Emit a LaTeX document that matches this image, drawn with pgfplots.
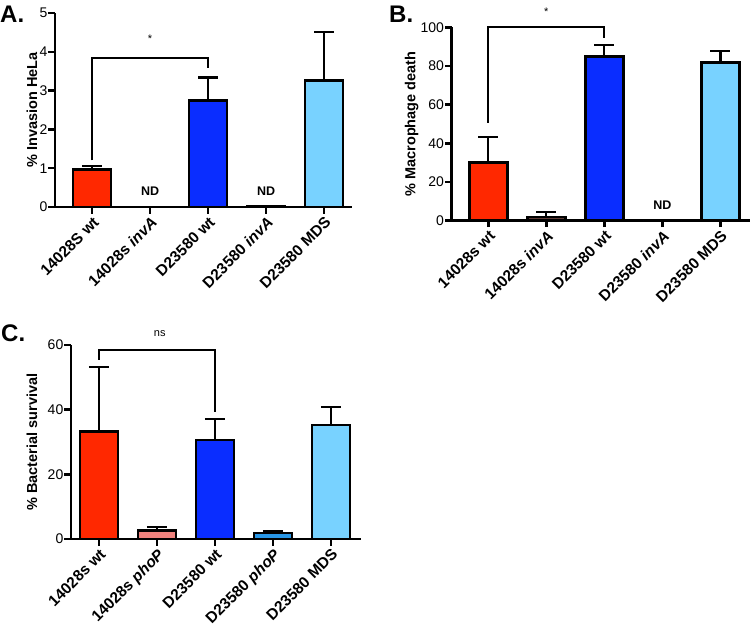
\documentclass[border=0pt]{standalone}
\usepackage{pgfplots}
\pgfplotsset{compat=1.18}
\usepackage{fontspec}
\setmainfont{Liberation Sans}
\definecolor{cred}{RGB}{255,40,0}
\definecolor{cblue}{RGB}{10,45,255}
\definecolor{clight}{RGB}{120,210,255}
\definecolor{cbrown}{RGB}{95,60,55}
\definecolor{csalmon}{RGB}{240,130,125}
\definecolor{cmid}{RGB}{40,150,230}
\pgfplotsset{
  panel/.style={
    scale only axis, anchor=south west, clip=false,
    axis x line=bottom, axis y line=left,
    axis line style={-, line width=2.8pt, black},
    ymin=0, xtick={0,1,2,3,4},
    tick align=outside, major tick length=6.5pt,
    tick style={black, line width=2.5pt},
    every tick label/.append style={font=\fontsize{14}{14}\selectfont},
    /pgf/number format/assume math mode=true,
    yticklabel style={inner sep=1pt},
    xticklabel style={rotate=45, anchor=north east, font=\fontsize{15.5}{15.5}\selectfont\bfseries, inner sep=1.5pt},
    ybar,
  },
  ylab/.style={every axis y label/.style={at={(axis description cs:0,0.5)}, xshift=#1, rotate=90, anchor=center, font=\fontsize{14.5}{14.5}\selectfont\bfseries}},
  mybar/.style={fill=#1, draw=black, line width=2.5pt, bar width=38pt, bar shift=0pt,
    error bars/y dir=plus, error bars/y explicit,
    error bars/error bar style={line width=2.2pt, black},
    error bars/error mark options={line width=2.2pt, black, mark size=10pt, rotate=90}},
}
\begin{document}
\begin{tikzpicture}
\useasboundingbox (0,0) rectangle (750pt,-629pt);
\node[anchor=base west, font=\fontsize{24}{24}\selectfont\bfseries, inner sep=0pt] at (0pt,-22pt) {A.};
\node[anchor=base west, font=\fontsize{24}{24}\selectfont\bfseries, inner sep=0pt] at (389pt,-22pt) {B.};
\node[anchor=base west, font=\fontsize{24}{24}\selectfont\bfseries, inner sep=0pt] at (1pt,-341pt) {C.};

% Panel A
\begin{axis}[panel, at={(55pt,-207pt)}, width=297pt, height=194pt,
  xmin=-0.64, xmax=4.48, ymax=5, ytick={0,1,2,3,4,5},
  ylabel={\% Invasion HeLa}, ylab=-23pt,
  xticklabels={14028S wt, 14028s \textit{invA}, D23580 wt, D23580 \textit{invA}, D23580 MDS}]
\addplot[mybar=cred] coordinates {(0,0.97) +- (0,0.09)};
\addplot[mybar=cred] coordinates {(1,0)};
\addplot[mybar=cblue] coordinates {(2,2.74) +- (0,0.60)};
\addplot[mybar=cblue] coordinates {(3,0.01)};
\addplot[mybar=clight] coordinates {(4,3.26) +- (0,1.26)};
\draw[line width=2pt] (axis cs:0,1.2) -- (axis cs:0,3.83) -- (axis cs:2,3.83) -- (axis cs:2,3.57);
\node[font=\fontsize{11}{11}\selectfont] at (axis cs:1,4.33) {*};
\node[font=\fontsize{12.5}{12.5}\selectfont\bfseries] at (axis cs:1,0.42) {ND};
\node[font=\fontsize{12.5}{12.5}\selectfont\bfseries] at (axis cs:3,0.42) {ND};
\end{axis}

% Panel B
\begin{axis}[panel, at={(451.7pt,-220.7pt)}, width=298.3pt, height=193.4pt,
  xmin=-0.63, xmax=4.51, ymax=100, ytick={0,20,40,60,80,100},
  ylabel={\% Macrophage death}, ylab=-40pt,
  xticklabels={14028s wt, 14028s \textit{invA}, D23580 wt, D23580 \textit{invA}, D23580 MDS}]
\addplot[mybar=cred] coordinates {(0,30.2) +- (0,12.9)};
\addplot[mybar=cbrown] coordinates {(1,1.8) +- (0,2.5)};
\addplot[mybar=cblue] coordinates {(2,84.8) +- (0,6.0)};
\addplot[mybar=cblue] coordinates {(3,0)};
\addplot[mybar=clight] coordinates {(4,81.9) +- (0,5.8)};
\draw[line width=2pt] (axis cs:0,50.6) -- (axis cs:0,100) -- (axis cs:2,100) -- (axis cs:2,94.3);
\node[font=\fontsize{11}{11}\selectfont] at (axis cs:1,108) {*};
\node[font=\fontsize{12.5}{12.5}\selectfont\bfseries] at (axis cs:3,8.1) {ND};
\end{axis}

% Panel C
\begin{axis}[panel, at={(71pt,-539pt)}, width=290pt, height=194pt,
  xmin=-0.48, xmax=4.52, ymax=60, ytick={0,20,40,60},
  ylabel={\% Bacterial survival}, ylab=-39pt,
  xticklabels={14028s wt, 14028s \textit{phoP}, D23580 wt, D23580 \textit{phoP}, D23580 MDS}]
\addplot[mybar=cred] coordinates {(0,33.3) +- (0,20.0)};
\addplot[mybar=csalmon] coordinates {(1,2.6) +- (0,1.2)};
\addplot[mybar=cblue] coordinates {(2,30.6) +- (0,6.6)};
\addplot[mybar=cmid] coordinates {(3,1.9) +- (0,0.6)};
\addplot[mybar=clight] coordinates {(4,35.2) +- (0,5.6)};
\draw[line width=2pt] (axis cs:0,55.4) -- (axis cs:0,58.4) -- (axis cs:2,58.4) -- (axis cs:2,39.4);
\node[font=\fontsize{11}{11}\selectfont] at (axis cs:1.05,63.6) {ns};
\end{axis}
\end{tikzpicture}
\end{document}
